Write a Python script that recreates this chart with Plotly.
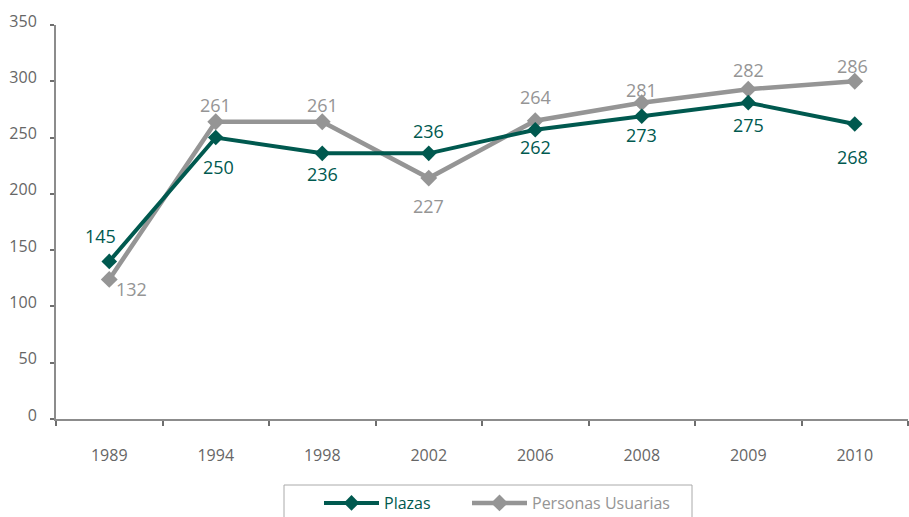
import plotly.graph_objects as go

years = ["1989", "1994", "1998", "2002", "2006", "2008", "2009", "2010"]
# plotted heights
plazas_y = [140, 250, 236, 236, 257, 269, 281, 262]
personas_y = [124, 264, 264, 214, 265, 281, 293, 300]
# printed data labels
plazas_labels = ["145", "250", "236", "236", "262", "273", "275", "268"]
personas_labels = ["132", "261", "261", "227", "264", "281", "282", "286"]
y_ticks = [0, 50, 100, 150, 200, 250, 300, 350]

teal = "#00594F"
gray = "#959595"
font_family = "Open Sans, Noto Sans, sans-serif"

# label offsets in pixels (dx, dy; dy positive = up)
plazas_off = [(-9, 25), (3, -29), (0, -21), (0, 22), (0, -17), (0, -19), (0, -22), (-2, -33)]
personas_off = [(22, -10), (0, 17), (0, 17), (0, -28), (0, 24), (0, 13), (0, 19), (-2, 15)]

fig = go.Figure()
fig.add_trace(go.Scatter(
    x=years, y=personas_y, name="Personas Usuarias", legend="legend2",
    mode="lines+markers",
    line=dict(color=gray, width=4.5),
    marker=dict(symbol="diamond", size=13, color=gray),
    cliponaxis=False,
))
fig.add_trace(go.Scatter(
    x=years, y=plazas_y, name="Plazas", legend="legend",
    mode="lines+markers",
    line=dict(color=teal, width=4),
    marker=dict(symbol="diamond", size=12, color=teal),
    cliponaxis=False,
))

annotations = []
for i, (val, lab, (dx, dy)) in enumerate(zip(plazas_y, plazas_labels, plazas_off)):
    annotations.append(dict(x=i, y=val, xref="x", yref="y", text=lab, showarrow=False,
                            xshift=dx, yshift=dy,
                            font=dict(color=teal, size=18, family=font_family)))
for i, (val, lab, (dx, dy)) in enumerate(zip(personas_y, personas_labels, personas_off)):
    annotations.append(dict(x=i, y=val, xref="x", yref="y", text=lab, showarrow=False,
                            xshift=dx, yshift=dy,
                            font=dict(color=gray, size=18, family=font_family)))

legend_common = dict(
    orientation="h", xanchor="left", yanchor="top",
    yref="container", y=1 - 486 / 517,
    borderwidth=0, bgcolor="rgba(0,0,0,0)", itemwidth=55,
)

fig.update_layout(
    width=909, height=517,
    margin=dict(l=56, r=1, t=25, b=98),
    paper_bgcolor="white", plot_bgcolor="white",
    font=dict(family=font_family, color="#666666", size=16),
    showlegend=True,
    annotations=annotations,
    legend=dict(x=(319 - 56) / 852, font=dict(size=16, color=teal, family=font_family),
                **legend_common),
    legend2=dict(x=(467 - 56) / 852, font=dict(size=16, color=gray, family=font_family),
                 **legend_common),
    shapes=[dict(type="rect", xref="paper", yref="paper",
                 x0=(284 - 56) / 852, x1=(692 - 56) / 852,
                 y0=(419 - 530) / 394, y1=(419 - 485) / 394,
                 line=dict(color="#aaaaaa", width=1), fillcolor="rgba(0,0,0,0)")],
    xaxis=dict(
        type="category", range=[-0.5, 7.5], automargin=False,
        showline=True, linecolor="#8c8c8c", linewidth=2,
        ticks="outside", ticklen=5, tickwidth=2, tickcolor="#6e6e6e",
        tickson="boundaries", showgrid=False,
        ticklabelstandoff=21,
        tickfont=dict(size=16, color="#666666"),
    ),
    yaxis=dict(
        range=[0, 350], tickvals=y_ticks, automargin=False,
        showline=True, linecolor="#8c8c8c", linewidth=2,
        ticks="outside", ticklen=4, tickwidth=2, tickcolor="#6e6e6e",
        showgrid=False, zeroline=False,
        ticklabelstandoff=10, ticklabelshift=-4,
        tickfont=dict(size=16, color="#666666"),
    ),
)

fig.write_html("out.html", config={"displayModeBar": False},
               post_script="document.body.style.margin='0';document.body.style.padding='0';")
